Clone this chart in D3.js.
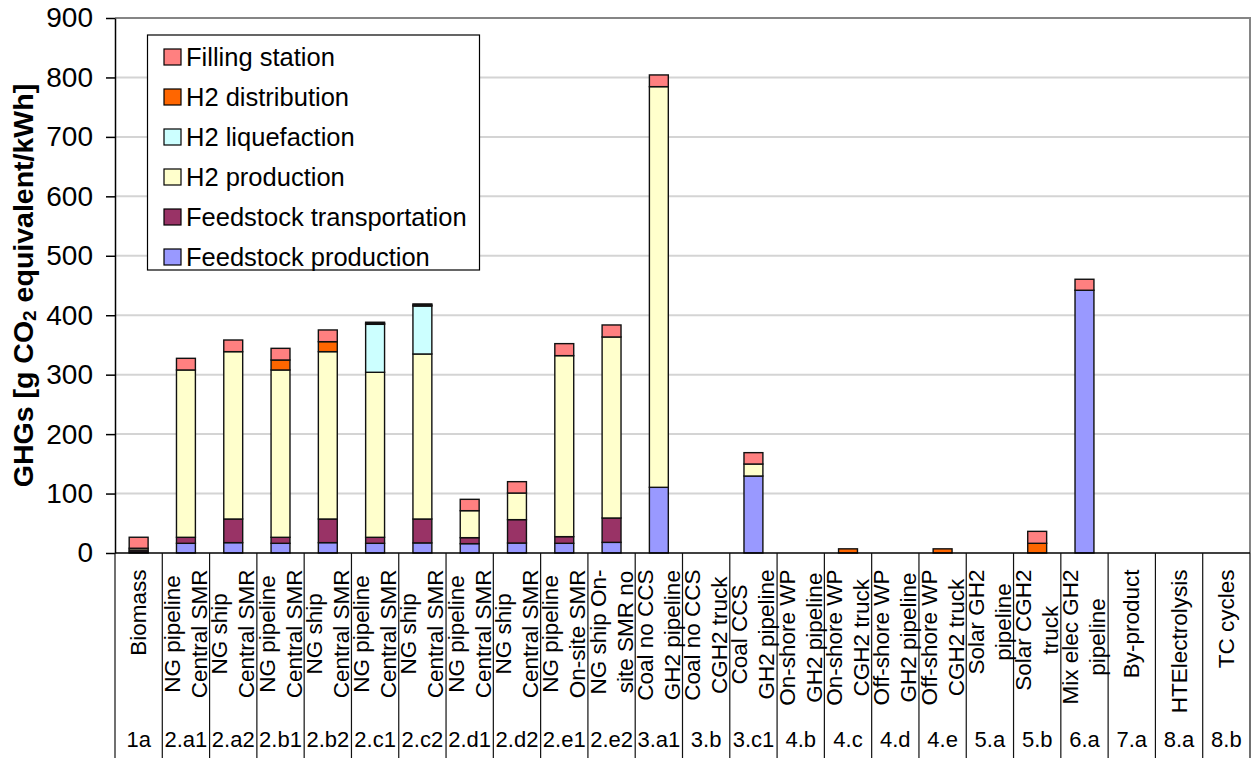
<!DOCTYPE html>
<html><head><meta charset="utf-8">
<script src="https://cdn.jsdelivr.net/npm/d3@7"></script>
<style>
html,body{margin:0;padding:0;background:#fff;}
text{font-family:"Liberation Sans",Arial,sans-serif;fill:#000;}
</style></head>
<body><svg id="chart" width="1252" height="758"></svg>
<script>
// ---- data ----
const codes = ["1a","2.a1","2.a2","2.b1","2.b2","2.c1","2.c2","2.d1","2.d2","2.e1","2.e2","3.a1","3.b","3.c1","4.b","4.c","4.d","4.e","5.a","5.b","6.a","7.a","8.a","8.b"];
const pathwayLabels = [
  ["Biomass"],
  ["NG pipeline","Central SMR"],
  ["NG ship","Central SMR"],
  ["NG pipeline","Central SMR"],
  ["NG ship","Central SMR"],
  ["NG pipeline","Central SMR"],
  ["NG ship","Central SMR"],
  ["NG pipeline","Central SMR"],
  ["NG ship","Central SMR"],
  ["NG pipeline","On-site SMR"],
  ["NG ship On-","site SMR no"],
  ["Coal no CCS","GH2 pipeline"],
  ["Coal no CCS","CGH2 truck"],
  ["Coal CCS","GH2 pipeline"],
  ["On-shore WP","GH2 pipeline"],
  ["On-shore WP","CGH2 truck"],
  ["Off-shore WP","GH2 pipeline"],
  ["Off-shore WP","CGH2 truck"],
  ["Solar GH2","pipeline"],
  ["Solar CGH2","truck"],
  ["Mix elec GH2","pipeline"],
  ["By-product"],
  ["HTElectrolysis"],
  ["TC cycles"]
];
const seriesNames = ["Feedstock production","Feedstock transportation","H2 production","H2 liquefaction","H2 distribution","Filling station"];
const feedstockProduction     = [2, 16.3, 17.4, 16.3, 17.4, 16.3, 17, 15.7, 16.8, 16.3, 17.9, 110.5, 0, 129.5, 0, 0, 0, 0, 0, 0, 442, 0, 0, 0];
const feedstockTransportation = [3, 10.1, 39.8, 10.1, 39.8, 10.1, 40.2, 10.1, 39.3, 11.2, 41, 0, 0, 0, 0, 0, 0, 0, 0, 0, 0, 0, 0, 0];
const h2Production            = [3, 281.5, 281.5, 281.5, 281.5, 277.6, 277.6, 45.4, 44.8, 304.5, 304.5, 674, 0, 20.2, 0, 0, 0, 0, 0, 0, 0, 0, 0, 0];
const h2Liquefaction          = [0, 0, 0, 0, 0, 80.7, 80.7, 0, 0, 0, 0, 0, 0, 0, 0, 0, 0, 0, 0, 0, 0, 0, 0, 0];
const h2Distribution          = [0, 0, 0, 16.8, 16.8, 1.5, 1.5, 0, 0, 0, 0, 0, 0, 0, 0, 7, 0, 7, 0, 16.3, 0, 0, 0, 0];
const fillingStation          = [18.5, 19.6, 19.6, 19.6, 19.7, 2, 2, 19.1, 19.1, 20.2, 20.2, 19.7, 0, 19.1, 0, 0, 0, 0, 0, 20.1, 18.5, 0, 0, 0];
const yTicks = [0,100,200,300,400,500,600,700,800,900];
const legendOrder = ["Filling station","H2 distribution","H2 liquefaction","H2 production","Feedstock transportation","Feedstock production"];
const colors = {
  "Feedstock production":"#9999FF",
  "Feedstock transportation":"#993366",
  "H2 production":"#FFFFCC",
  "H2 liquefaction":"#CCFFFF",
  "H2 distribution":"#FF6600",
  "Filling station":"#FF8080"
};

// ---- build ----
const seriesValues = [feedstockProduction, feedstockTransportation, h2Production, h2Liquefaction, h2Distribution, fillingStation];
const table = codes.map((c,i)=>{
  const row = {code:c};
  seriesNames.forEach((s,j)=>row[s]=seriesValues[j][i]);
  return row;
});

const svg = d3.select("#chart");
const L=115, R=1250, T=18, B=553;
const x = d3.scaleBand().domain(codes).range([L,R]).padding(0);
const y = d3.scaleLinear().domain([0,900]).range([B,T]);

// gridlines
svg.append("g").selectAll("line").data(yTicks.filter(v=>v>0 && v<900)).join("line")
  .attr("x1",L).attr("x2",R).attr("y1",d=>y(d)).attr("y2",d=>y(d))
  .attr("stroke","#d4d4d4").attr("stroke-width",2);
// plot border top/right
svg.append("path").attr("d",`M${L},${y(900)}H${R}V${B}`).attr("fill","none")
  .attr("stroke","#858585").attr("stroke-width",2);

// bars
const stack = d3.stack().keys(seriesNames);
const stacked = stack(table);
const bw = x.bandwidth()*0.4;
svg.append("g").selectAll("g").data(stacked).join("g")
  .attr("fill",d=>colors[d.key])
  .selectAll("rect").data(d=>d.filter(p=>p[1]-p[0]>0)).join("rect")
  .attr("x",d=>x(d.data.code)+x.bandwidth()/2-bw/2)
  .attr("width",bw)
  .attr("y",d=>y(d[1]))
  .attr("height",d=>y(d[0])-y(d[1]))
  .attr("stroke","#111").attr("stroke-width",1.4);

// y axis
const ya = svg.append("g").attr("transform",`translate(${L},0)`)
  .call(d3.axisLeft(y).tickValues(yTicks).tickSize(9).tickSizeOuter(0).tickPadding(13));
ya.select(".domain").attr("stroke","#000").attr("stroke-width",1.5);
ya.selectAll(".tick line").attr("stroke","#000").attr("stroke-width",1.5);
ya.selectAll(".tick text").attr("font-size",28).attr("font-family","'Liberation Sans',Arial,sans-serif").attr("fill","#000");

// x axis line
svg.append("line").attr("x1",L).attr("x2",R).attr("y1",B).attr("y2",B).attr("stroke","#000").attr("stroke-width",1.5);

// category separators
const bounds = codes.map(c=>x(c)).concat([R]);
svg.append("g").selectAll("line").data(bounds).join("line")
  .attr("x1",d=>d).attr("x2",d=>d).attr("y1",B).attr("y2",758)
  .attr("stroke","#111").attr("stroke-width",1.2);

// rotated pathway labels
const lab = svg.append("g");
codes.forEach((c,i)=>{
  const lines = pathwayLabels[i];
  const cc = x(c)+x.bandwidth()/2;
  const n = lines.length;
  const texts = lines.map((t,k)=>lab.append("text").attr("font-size",22.5)
     .attr("text-anchor","middle").attr("dominant-baseline","central").text(t));
  const maxLen = d3.max(texts, t=>t.node().getComputedTextLength());
  texts.forEach((t,k)=>{
    const off = (k-(n-1)/2)*27;
    t.attr("transform",`translate(${cc+off},${569.5+maxLen/2}) rotate(-90)`);
  });
});

// code labels
svg.append("g").selectAll("text").data(codes).join("text")
  .attr("x",d=>x(d)+x.bandwidth()/2).attr("y",747)
  .attr("text-anchor","middle").attr("font-size",22).text(d=>d);

// y title
const yt = svg.append("text").attr("transform",`translate(23,${(T+B)/2}) rotate(-90)`)
  .attr("text-anchor","middle").attr("dominant-baseline","central")
  .attr("font-size",28.5).attr("font-weight","bold");
yt.append("tspan").text("GHGs [g CO");
yt.append("tspan").attr("font-size",19).attr("dy",6).text("2");
yt.append("tspan").attr("dy",-6).text(" equivalent/kWh]");

// legend
const lg = svg.append("g");
lg.append("rect").attr("x",147.5).attr("y",35).attr("width",332).attr("height",235)
  .attr("fill","#fff").attr("stroke","#000").attr("stroke-width",1.2);
legendOrder.forEach((s,i)=>{
  const cy = 57 + i*40;
  lg.append("rect").attr("x",164).attr("y",cy-8).attr("width",17).attr("height",16)
    .attr("fill",colors[s]).attr("stroke","#000").attr("stroke-width",1.2);
  lg.append("text").attr("x",186).attr("y",cy).attr("dominant-baseline","central")
    .attr("font-size",25.5).text(s);
});
</script></body></html>
